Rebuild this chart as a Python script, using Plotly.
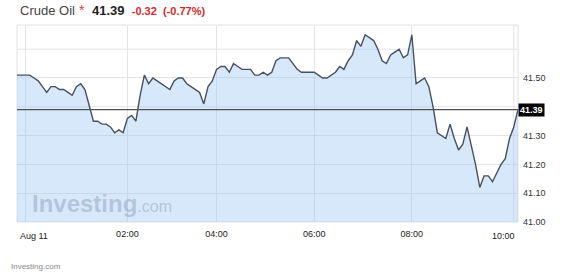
import pandas as pd
import plotly.graph_objects as go

# ---- data (5-minute bars, ordinal time axis) ----
all_slots = pd.date_range("2016-08-10 23:50", "2016-08-11 10:05", freq="5min")
missing_slots = ["2016-08-11 02:45", "2016-08-11 02:50", "2016-08-11 02:55",
                 "2016-08-11 05:10", "2016-08-11 07:20"]
times = [t.strftime("%Y-%m-%d %H:%M") for t in all_slots
         if t.strftime("%Y-%m-%d %H:%M") not in missing_slots]

prices = [
    41.51, 41.51, 41.51, 41.51, 41.50, 41.49, 41.47, 41.45, 41.47, 41.47,
    41.46, 41.46, 41.45, 41.44, 41.47, 41.48, 41.46, 41.40, 41.35, 41.35,
    41.34, 41.34, 41.33, 41.31, 41.32, 41.31, 41.36, 41.37, 41.35, 41.44,
    41.51, 41.48, 41.50, 41.49, 41.48, 41.47, 41.46, 41.49, 41.50, 41.50,
    41.48, 41.47, 41.46, 41.45, 41.41, 41.47, 41.49, 41.53, 41.54, 41.54,
    41.52, 41.55, 41.54, 41.53, 41.53, 41.53, 41.51, 41.51, 41.52, 41.51,
    41.52, 41.56, 41.57, 41.57, 41.57, 41.55, 41.53, 41.52, 41.52, 41.52,
    41.52, 41.51, 41.50, 41.50, 41.51, 41.52, 41.54, 41.53, 41.56, 41.58,
    41.63, 41.61, 41.65, 41.64, 41.63, 41.60, 41.56, 41.55, 41.58, 41.59,
    41.60, 41.57, 41.58, 41.65, 41.48, 41.49, 41.50, 41.47, 41.40, 41.31,
    41.30, 41.29, 41.34, 41.29, 41.25, 41.27, 41.33, 41.27, 41.20, 41.12,
    41.16, 41.16, 41.14, 41.17, 41.20, 41.22, 41.29, 41.33, 41.39,
]

x_tick_times = ["2016-08-11 00:00", "2016-08-11 02:00", "2016-08-11 04:00",
                "2016-08-11 06:00", "2016-08-11 08:00", "2016-08-11 10:00"]
x_tick_labels = ["Aug 11", "02:00", "04:00", "06:00", "08:00", "10:00"]

y_label_vals = [41.00, 41.10, 41.20, 41.30, 41.50]
y_label_text = ["41.00", "41.10", "41.20", "41.30", "41.50"]
y_extra_grid = [41.40, 41.60]

instrument = "Crude Oil"
last_price = prices[-1]
change = "-0.32"
change_pct = "(-0.77%)"

FONT = "Liberation Sans, Arial, sans-serif"
GRID = "#e4e4e4"

fig = go.Figure()
fig.add_trace(go.Scatter(
    x=times, y=prices, mode="lines",
    line=dict(color="#465060", width=1.4),
    fill="tozeroy", fillcolor="rgba(160,200,245,0.42)",
    hoverinfo="skip", showlegend=False,
))

# gridlines at the edge ticks (their labels are placed as annotations)
for t in (x_tick_times[0], x_tick_times[-1]):
    fig.add_shape(type="line", xref="x", yref="paper", x0=t, x1=t, y0=0, y1=1,
                  line=dict(color=GRID, width=1), layer="below")
for v in y_extra_grid:
    fig.add_shape(type="line", xref="paper", yref="y", x0=0, x1=1, y0=v, y1=v,
                  line=dict(color=GRID, width=1), layer="below")

# current price line
fig.add_shape(type="line", xref="paper", x0=0, x1=1, yref="y",
              y0=last_price, y1=last_price,
              line=dict(color="#505050", width=1.2))
# plot frame
fig.add_shape(type="rect", xref="paper", yref="paper", x0=0, x1=1, y0=0, y1=1,
              line=dict(color="#e2e2e2", width=1), layer="below")

fig.update_layout(
    width=564, height=276,
    margin=dict(l=17, r=46, t=25, b=54),
    paper_bgcolor="white", plot_bgcolor="white",
    font=dict(family=FONT, size=9, color="#333333"),
    xaxis=dict(
        type="category", range=[0, len(times) - 1],
        tickmode="array", tickvals=x_tick_times[1:-1], ticktext=x_tick_labels[1:-1],
        showgrid=True, gridcolor=GRID, gridwidth=1,
        zeroline=False, showline=False, ticks="",
        ticklabelstandoff=5,
        tickfont=dict(size=9, color="#222222"),
        fixedrange=True,
    ),
    yaxis=dict(
        side="right", range=[41.0, 41.684],
        tickmode="array", tickvals=y_label_vals, ticktext=y_label_text,
        showgrid=True, gridcolor=GRID, gridwidth=1,
        zeroline=False, showline=False, ticks="",
        ticklabelstandoff=4,
        tickfont=dict(size=9, color="#333333"),
        fixedrange=True,
    ),
)

annos = [
    # title pieces
    dict(xref="paper", yref="paper", x=0.002, y=1.074, xanchor="left", yanchor="middle",
         text=instrument, font=dict(size=13, color="#444444", family=FONT), showarrow=False),
    dict(xref="paper", yref="paper", x=0.119, y=1.078, xanchor="left", yanchor="middle",
         text="*", font=dict(size=14, color="#e23b3b", family=FONT), showarrow=False),
    dict(xref="paper", yref="paper", x=0.146, y=1.074, xanchor="left", yanchor="middle",
         text=(f"<b>{last_price:.2f}</b>  "
               f"<span style='color:#d42a2a;font-size:11px'><b>{change}</b>  <b>{change_pct}</b></span>"),
         font=dict(size=13, color="#222222", family=FONT), showarrow=False),
    # current price tag
    dict(xref="paper", yref="y", x=1.0, y=last_price, xanchor="left", yanchor="middle",
         text=f"<b>{last_price:.2f}</b>", bgcolor="#000000", borderpad=1,
         font=dict(size=9, color="white", family=FONT), showarrow=False),
    # edge x labels
    dict(xref="paper", yref="paper", x=0.002, y=-0.071, xanchor="left", yanchor="middle",
         text=x_tick_labels[0], font=dict(size=9, color="#222222", family=FONT), showarrow=False),
    dict(xref="paper", yref="paper", x=0.999, y=-0.071, xanchor="right", yanchor="middle",
         text=x_tick_labels[-1], font=dict(size=9, color="#222222", family=FONT), showarrow=False),
    # watermark
    dict(xref="paper", yref="paper", x=0.025, y=0.095, xanchor="left", yanchor="middle",
         text="<b>Investing</b><span style='font-size:16px'>.com</span>",
         font=dict(size=24, color="rgba(135,152,178,0.45)", family=FONT), showarrow=False),
    # footer
    dict(xref="paper", yref="paper", x=-0.015, y=-0.228, xanchor="left", yanchor="middle",
         text="Investing.com", font=dict(size=8, color="#888888", family=FONT), showarrow=False),
]
fig.update_layout(annotations=annos)

fig.write_html("out.html")
